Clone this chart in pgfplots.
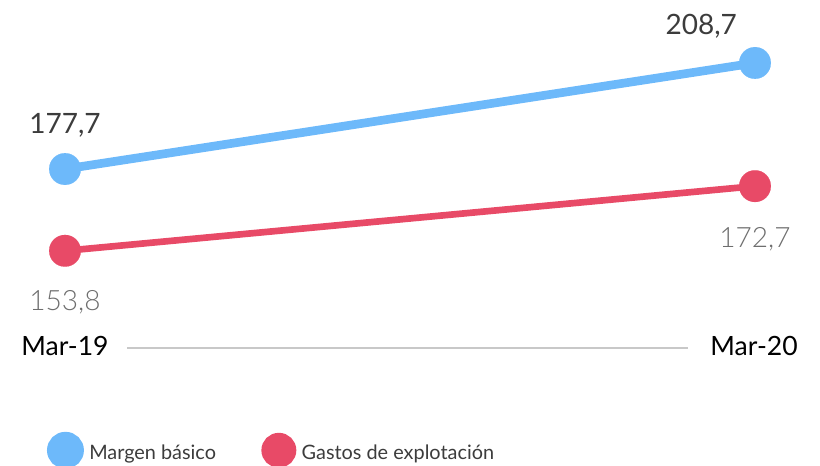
\documentclass[border=0pt]{standalone}
\usepackage{pgfplots}
\pgfplotsset{compat=1.18}
\usepackage{fontspec}
\setmainfont{Lato}
\newfontfamily\lightfont{Lato Light}
\definecolor{cblue}{HTML}{6DB9FA}
\definecolor{cred}{HTML}{E84A67}
\definecolor{dtext}{HTML}{3C3C3C}
\definecolor{ltext}{HTML}{6E6E6E}
\definecolor{gline}{HTML}{C8C8C8}
\begin{document}
\begin{tikzpicture}
\begin{axis}[name=ax, scale only axis, width=615pt, height=348.75pt,
  xmin=-0.0942, xmax=1.0942, ymin=91.2, ymax=227.1,
  hide axis, clip=false,
  legend columns=2,
  legend image code/.code={\fill (10.6pt,2pt) circle (10.6pt);},
  legend style={at={(axis cs:-0.0261,95.5)}, anchor=west, draw=none, fill=none,
    inner sep=0pt, outer sep=0pt, font=\fontsize{14.9}{14.9}\selectfont,
    nodes={inner sep=0pt, text=dtext},
    /tikz/every odd column/.append style={column sep=4pt},
    /tikz/every even column/.append style={column sep=34pt}},
]
\addplot[forget plot, gline, line width=1.5pt] coordinates {(0.0899,125.4) (0.903,125.4)};
\addplot[cblue, line width=6.5pt, mark=*, mark size=11.9pt, mark options={solid, line width=0.1pt}] coordinates {(0,177.7) (1,208.7)};
\addlegendentry{Margen básico}
\addplot[cred, line width=5pt, mark=*, mark size=11.9pt, mark options={solid, line width=0.1pt}] coordinates {(0,153.8) (1,172.7)};
\addlegendentry{Gastos de explotación}
\node[anchor=base, inner sep=0pt, text=dtext, font=\fontsize{21}{21}\selectfont] at (axis cs:0,188.2) {177,7};
\node[anchor=base, inner sep=0pt, text=dtext, font=\fontsize{21}{21}\selectfont] at (axis cs:0.9220,216.9) {208,7};
\node[anchor=base, inner sep=0pt, text=ltext, font=\lightfont\fontsize{21}{21}\selectfont] at (axis cs:0,136.5) {153,8};
\node[anchor=base, inner sep=0pt, text=ltext, font=\lightfont\fontsize{21}{21}\selectfont] at (axis cs:1,154.9) {172,7};
\node[anchor=base, inner sep=0pt, text=black, font=\fontsize{19.9}{19.9}\selectfont] at (axis cs:0,123.3) {Mar-19};
\node[anchor=base, inner sep=0pt, text=black, font=\fontsize{19.9}{19.9}\selectfont] at (axis cs:0.9986,123.3) {Mar-20};
\end{axis}
\pgfresetboundingbox
\path[use as bounding box] (ax.south west) rectangle (ax.north east);
\end{tikzpicture}
\end{document}
